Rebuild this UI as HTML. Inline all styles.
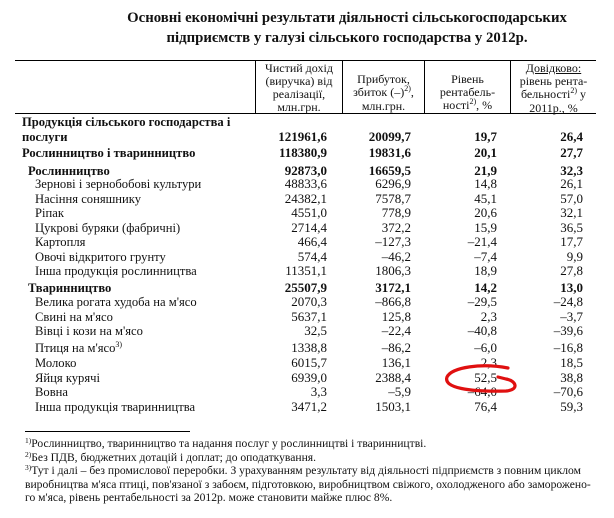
<!DOCTYPE html>
<html>
<head>
<meta charset="utf-8">
<style>
  html, body { margin:0; padding:0; background:#fff; }
  body { width:614px; height:518px; position:relative; overflow:hidden;
         font-family:"Liberation Serif","Noto Serif CJK SC",serif; color:#111; }
  .abs { position:absolute; white-space:nowrap; }
  .title { position:absolute; left:47px; width:600px; text-align:center; font-weight:bold;
           font-size:14.8px; white-space:nowrap; line-height:18px; }
  .hl { position:absolute; background:#000; height:1px; }
  .vl { position:absolute; background:#000; width:1px; top:60px; height:54px; }
  .hdr { position:absolute; font-size:12px; line-height:13px; text-align:center; white-space:nowrap; }
  .row { position:absolute; left:0; width:614px; height:16px; line-height:16px; font-size:13px; }
  .row .lbl { position:absolute; top:0; white-space:nowrap; font-size:12.6px; }
  .row .n { position:absolute; top:0; white-space:nowrap; }
  .c1 { right:287px; } .c2 { right:203px; } .c3 { right:117px; } .c4 { right:31px; }
  .b { font-weight:bold; }
  sup { font-size:8px; vertical-align:0; position:relative; top:-5px; }
  .fn { position:absolute; left:25px; font-size:11.6px; line-height:14px; white-space:nowrap; }
  .fn sup { font-size:7.5px; top:-4px; }
</style>
</head>
<body>

<div class="title" style="top:9px;">Основні економічні результати діяльності сільськогосподарських</div>
<div class="title" style="top:29px;">підприємств у галузі сільського господарства у 2012р.</div>

<!-- table lines -->
<div class="hl" style="left:15px; width:581px; top:60px;"></div>
<div class="hl" style="left:15px; width:581px; top:113px;"></div>
<div class="vl" style="left:255px;"></div>
<div class="vl" style="left:342px;"></div>
<div class="vl" style="left:424px;"></div>
<div class="vl" style="left:510px;"></div>

<!-- headers -->
<div class="hdr" style="left:256px; width:86px; top:62px;">Чистий дохід<br>(виручка) від<br>реалізації,<br>млн.грн.</div>
<div class="hdr" style="left:343px; width:81px; top:73px;">Прибуток,<br>збиток (–)<sup>2)</sup>,<br>млн.грн.</div>
<div class="hdr" style="left:425px; width:85px; top:73px;">Рівень<br>рентабель-<br>ності<sup>2)</sup>, %</div>
<div class="hdr" style="left:511px; width:85px; top:62px;"><u>Довідково:</u><br>рівень рента-<br>бельності<sup>2)</sup> у<br>2011р., %</div>

<!-- rows -->
<div class="row b" style="top:114px;"><span class="lbl" style="left:22px;">Продукція сільського господарства і</span></div>
<div class="row b" style="top:129px;"><span class="lbl" style="left:22px;">послуги</span>
  <span class="n c1">121961,6</span><span class="n c2">20099,7</span><span class="n c3">19,7</span><span class="n c4">26,4</span></div>
<div class="row b" style="top:145px;"><span class="lbl" style="left:22px;">Рослинництво і тваринництво</span>
  <span class="n c1">118380,9</span><span class="n c2">19831,6</span><span class="n c3">20,1</span><span class="n c4">27,7</span></div>
<div class="row b" style="top:163px;"><span class="lbl" style="left:28px;">Рослинництво</span>
  <span class="n c1">92873,0</span><span class="n c2">16659,5</span><span class="n c3">21,9</span><span class="n c4">32,3</span></div>
<div class="row" style="top:176px;"><span class="lbl" style="left:35px;">Зернові і зернобобові культури</span>
  <span class="n c1">48833,6</span><span class="n c2">6296,9</span><span class="n c3">14,8</span><span class="n c4">26,1</span></div>
<div class="row" style="top:191px;"><span class="lbl" style="left:35px;">Насіння соняшнику</span>
  <span class="n c1">24382,1</span><span class="n c2">7578,7</span><span class="n c3">45,1</span><span class="n c4">57,0</span></div>
<div class="row" style="top:205px;"><span class="lbl" style="left:35px;">Ріпак</span>
  <span class="n c1">4551,0</span><span class="n c2">778,9</span><span class="n c3">20,6</span><span class="n c4">32,1</span></div>
<div class="row" style="top:220px;"><span class="lbl" style="left:35px;">Цукрові буряки (фабричні)</span>
  <span class="n c1">2714,4</span><span class="n c2">372,2</span><span class="n c3">15,9</span><span class="n c4">36,5</span></div>
<div class="row" style="top:234px;"><span class="lbl" style="left:35px;">Картопля</span>
  <span class="n c1">466,4</span><span class="n c2">–127,3</span><span class="n c3">–21,4</span><span class="n c4">17,7</span></div>
<div class="row" style="top:249px;"><span class="lbl" style="left:35px;">Овочі відкритого грунту</span>
  <span class="n c1">574,4</span><span class="n c2">–46,2</span><span class="n c3">–7,4</span><span class="n c4">9,9</span></div>
<div class="row" style="top:263px;"><span class="lbl" style="left:35px;">Інша продукція рослинництва</span>
  <span class="n c1">11351,1</span><span class="n c2">1806,3</span><span class="n c3">18,9</span><span class="n c4">27,8</span></div>
<div class="row b" style="top:280px;"><span class="lbl" style="left:28px;">Тваринництво</span>
  <span class="n c1">25507,9</span><span class="n c2">3172,1</span><span class="n c3">14,2</span><span class="n c4">13,0</span></div>
<div class="row" style="top:294px;"><span class="lbl" style="left:35px;">Велика рогата худоба на м'ясо</span>
  <span class="n c1">2070,3</span><span class="n c2">–866,8</span><span class="n c3">–29,5</span><span class="n c4">–24,8</span></div>
<div class="row" style="top:309px;"><span class="lbl" style="left:35px;">Свині на м'ясо</span>
  <span class="n c1">5637,1</span><span class="n c2">125,8</span><span class="n c3">2,3</span><span class="n c4">–3,7</span></div>
<div class="row" style="top:323px;"><span class="lbl" style="left:35px;">Вівці і кози на м'ясо</span>
  <span class="n c1">32,5</span><span class="n c2">–22,4</span><span class="n c3">–40,8</span><span class="n c4">–39,6</span></div>
<div class="row" style="top:340px;"><span class="lbl" style="left:35px;">Птиця на м'ясо<sup>3)</sup></span>
  <span class="n c1">1338,8</span><span class="n c2">–86,2</span><span class="n c3">–6,0</span><span class="n c4">–16,8</span></div>
<div class="row" style="top:355px;"><span class="lbl" style="left:35px;">Молоко</span>
  <span class="n c1">6015,7</span><span class="n c2">136,1</span><span class="n c3">2,3</span><span class="n c4">18,5</span></div>
<div class="row" style="top:370px;"><span class="lbl" style="left:35px;">Яйця курячі</span>
  <span class="n c1">6939,0</span><span class="n c2">2388,4</span><span class="n c3">52,5</span><span class="n c4">38,8</span></div>
<div class="row" style="top:384px;"><span class="lbl" style="left:35px;">Вовна</span>
  <span class="n c1">3,3</span><span class="n c2">–5,9</span><span class="n c3">–64,0</span><span class="n c4">–70,6</span></div>
<div class="row" style="top:399px;"><span class="lbl" style="left:35px;">Інша продукція тваринництва</span>
  <span class="n c1">3471,2</span><span class="n c2">1503,1</span><span class="n c3">76,4</span><span class="n c4">59,3</span></div>

<!-- red annotation -->
<svg class="abs" style="left:0; top:0;" width="614" height="518" viewBox="0 0 614 518">
  <path d="M 508 368 C 482 363, 452 367, 447 377 C 443 388, 470 392, 506 391 C 519 390, 517 381, 506 379 L 498 377"
        fill="none" stroke="#e01010" stroke-width="3.2" stroke-linecap="round" stroke-linejoin="round"/>
</svg>

<!-- footnotes -->
<div class="hl" style="left:25px; width:165px; top:431px;"></div>
<div class="fn" style="top:437px;"><sup>1)</sup>Рослинництво, тваринництво та надання послуг у рослинництві і тваринництві.</div>
<div class="fn" style="top:451px;"><sup>2)</sup>Без ПДВ, бюджетних дотацій і доплат; до оподаткування.</div>
<div class="fn" style="top:464px;"><sup>3)</sup>Тут і далі – без промислової переробки. З урахуванням результату від діяльності підприємств з повним циклом</div>
<div class="fn" style="top:478px;">виробництва м'яса птиці, пов'язаної з забоєм, підготовкою, виробництвом свіжого, охолодженого або заморожено-</div>
<div class="fn" style="top:491px;">го м'яса, рівень рентабельності за 2012р. може становити майже плюс 8%.</div>

</body>
</html>
